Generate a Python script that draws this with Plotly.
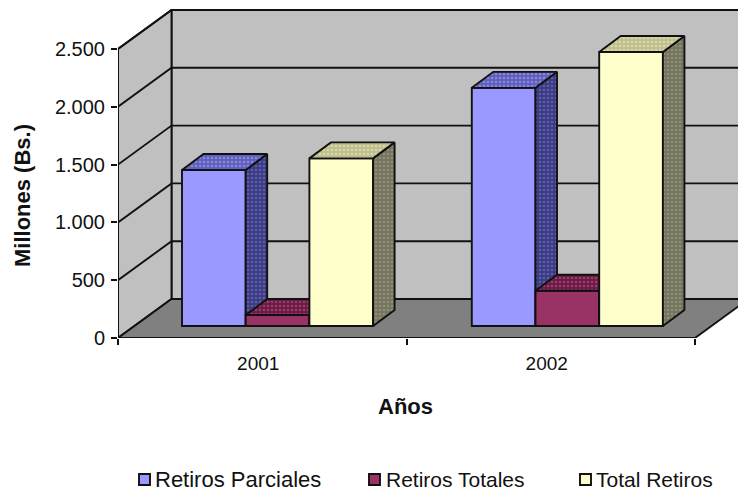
import plotly.graph_objects as go

years = ["2001", "2002"]
series_names = ["Retiros Parciales", "Retiros Totales", "Total Retiros"]
retiros_parciales = [1350, 2060]
retiros_totales = [95, 305]
total_retiros = [1450, 2370]
y_ticks = [0, 500, 1000, 1500, 2000, 2500]
y_tick_labels = ["0", "500", "1.000", "1.500", "2.000", "2.500"]

FONT = "Liberation Sans"
W, H = 738, 491
LEFT, AXIS_Y = 118, 338
PX_X = 288.5
PX_Y = 289 / 2500
BLACK = "#111111"
LW = 1.9


def ux(px):
    return px / PX_X


def uy(px):
    return px / PX_Y


x_range = [0, (W - LEFT) / PX_X]
y_range = [0, AXIS_Y / PX_Y]
wall_dx, wall_dy = ux(53.5), uy(39)
lift_dy = uy(12)
bar_dx, bar_dy = ux(21.5), uy(16)
bar_w = ux(63.7)
bar_start = ux(64)
group_pos = [0, ux(289.8)]

styles = [
    dict(front="#9999FF", side=("#3A3A82", "#5E5EA6"), top=("#5E5EBE", "#8888D4")),
    dict(front="#993366", side=("#6A1A44", "#8E3A64"), top=("#6A1A44", "#963E6C")),
    dict(front="#FFFFCC", side=("#74745E", "#90907A"), top=("#BEBE8E", "#D8D8A8")),
]
values = [retiros_parciales, retiros_totales, total_retiros]

fig = go.Figure()


def poly(xs, ys, color=None, pattern=None, width=LW, axes=("x", "y")):
    kw = dict(
        x=xs, y=ys, mode="lines", xaxis=axes[0], yaxis=axes[1],
        line=dict(color=BLACK, width=width), showlegend=False, hoverinfo="skip",
    )
    if color or pattern:
        kw.update(fill="toself", fillcolor=color or pattern[0])
    if pattern:
        kw["fillpattern"] = dict(shape=".", size=4, solidity=0.35,
                                 bgcolor=pattern[0], fgcolor=pattern[1], fillmode="replace")
    fig.add_trace(go.Scatter(**kw))


xmax = 2
top_val = y_ticks[-1]
# back wall, side wall, floor
poly([wall_dx, x_range[1] + 1, x_range[1] + 1, wall_dx, wall_dx],
     [wall_dy, wall_dy, top_val + wall_dy, top_val + wall_dy, wall_dy], color="#C0C0C0")
poly([0, wall_dx, wall_dx, 0, 0], [0, wall_dy, top_val + wall_dy, top_val, 0], color="#C0C0C0")
poly([0, xmax, xmax + wall_dx, wall_dx, 0], [0, 0, wall_dy, wall_dy, 0], color="#808080")
# grid lines on walls
for t in y_ticks[1:]:
    poly([0, wall_dx, x_range[1] + 1], [t, t + wall_dy, t + wall_dy])
# axis lines
poly([0, 0], [0, top_val], width=2)
poly([0, xmax], [0, 0], width=2)

for s, (name, vals, st) in enumerate(zip(series_names, values, styles)):
    axes = (f"x{s + 2}", f"y{s + 2}")
    xs = [g + bar_start + s * bar_w for g in group_pos]
    fig.add_trace(go.Bar(
        x=xs, y=vals, base=[lift_dy] * len(vals), width=bar_w, offset=0, name=name,
        marker=dict(color=st["front"], line=dict(color=BLACK, width=LW)),
        xaxis=axes[0], yaxis=axes[1], showlegend=False, hoverinfo="skip",
    ))
    for x0, v in zip(xs, vals):
        x1 = x0 + bar_w
        v_top = lift_dy + v
        poly([x1, x1 + bar_dx, x1 + bar_dx, x1, x1],
             [lift_dy, lift_dy + bar_dy, v_top + bar_dy, v_top, lift_dy],
             pattern=st["side"], axes=axes)
        poly([x0, x1, x1 + bar_dx, x0 + bar_dx, x0],
             [v_top, v_top, v_top + bar_dy, v_top + bar_dy, v_top],
             pattern=st["top"], axes=axes)

fig.update_layout(
    width=W, height=H, margin=dict(l=LEFT, r=0, t=0, b=H - AXIS_Y, pad=0),
    paper_bgcolor="white", plot_bgcolor="white", showlegend=False, barmode="overlay",
    font=dict(family=FONT, size=20, color="#111111"),
    xaxis=dict(
        range=x_range, showgrid=False, zeroline=False, showline=False,
        tickmode="array", tickvals=[0.486, 1.486], ticktext=years, ticks="",
        tickfont=dict(size=19), ticklabelstandoff=12,
        minor=dict(tickmode="array", tickvals=[0, 1, 2], ticks="outside",
                   ticklen=6, tickwidth=1.5, tickcolor=BLACK),
    ),
    yaxis=dict(
        range=y_range, showgrid=False, zeroline=False, showline=False,
        tickmode="array", tickvals=y_ticks, ticktext=y_tick_labels,
        ticks="outside", ticklen=6, tickwidth=1.5, tickcolor=BLACK,
        tickfont=dict(size=20), ticklabelstandoff=2,
    ),
)
for i in (2, 3, 4):
    fig.update_layout({
        f"xaxis{i}": dict(range=x_range, overlaying="x", visible=False, anchor=f"y{i}"),
        f"yaxis{i}": dict(range=y_range, overlaying="y", visible=False, anchor=f"x{i}"),
    })


def px(xp):
    return (xp - LEFT) / (W - LEFT)


def py(yp):
    return (AXIS_Y - yp) / AXIS_Y


annotations = [
    dict(text="<b>Millones (Bs.)</b>", x=px(22), y=py(196), textangle=-90, font=dict(size=22)),
    dict(text="<b>Años</b>", x=px(405), y=py(406), font=dict(size=22)),
]
shapes = []
swatch_x = [139, 369, 580]
text_x = [153, 384, 594]
legend_sizes = [22, 21, 21]
LEG_Y = 479
for sx, tx, fs, name, st in zip(swatch_x, text_x, legend_sizes, series_names, styles):
    shapes.append(dict(type="rect", xref="paper", yref="paper",
                       x0=px(sx), x1=px(sx + 11), y0=py(LEG_Y + 6), y1=py(LEG_Y - 5),
                       fillcolor=st["front"], line=dict(color=BLACK, width=1.9)))
    annotations.append(dict(text=name, x=px(tx), y=py(LEG_Y), xanchor="left", font=dict(size=fs)))
for a in annotations:
    a.update(xref="paper", yref="paper", showarrow=False)
    a.setdefault("xanchor", "center")
    a.setdefault("yanchor", "middle")
fig.update_layout(annotations=annotations, shapes=shapes)

fig.write_html("out.html", config=dict(displayModeBar=False),
               post_script="document.body.style.margin='0';")
